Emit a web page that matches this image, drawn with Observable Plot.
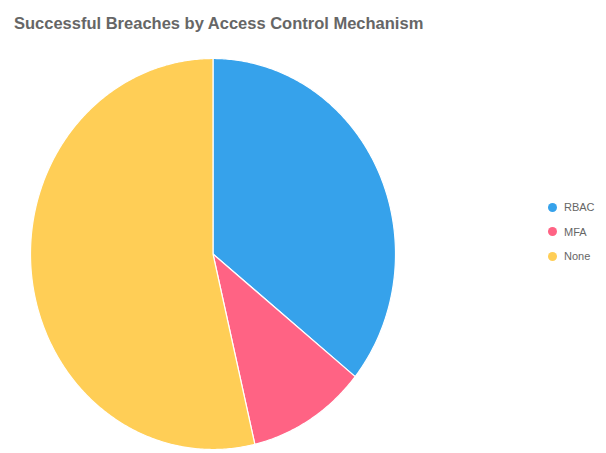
<!DOCTYPE html>
<html>
<head>
<meta charset="utf-8">
<script src="https://cdn.jsdelivr.net/npm/d3@7"></script>
<script src="https://cdn.jsdelivr.net/npm/@observablehq/plot@0.6"></script>
<style>
  html, body { margin: 0; padding: 0; background: #fff; }
  #wrap { position: relative; width: 606px; height: 453px; overflow: hidden; font-family: "Liberation Sans", Arial, sans-serif; }
  #title { height: 45px; box-sizing: border-box; padding: 14px 0 0 14px; font-size: 16.5px; font-weight: bold; color: #666; white-space: nowrap; }
  #legend { position: absolute; left: 548px; top: 195px; font-size: 11px; color: #666; }
  .item { display: flex; align-items: center; height: 24.5px; }
  .sw { width: 9px; height: 9px; border-radius: 50%; margin-right: 7px; }
</style>
</head>
<body>
<div id="wrap">
  <div id="title">Successful Breaches by Access Control Mechanism</div>
  <div id="chart"></div>
  <div id="legend"></div>
</div>
<script>
const categories = ["RBAC", "MFA", "None"];
const values = [34, 10, 51];
const colors = ["#36A2EB", "#FF6384", "#FFCE56"];

const data = categories.map((c, i) => ({label: c, value: values[i]}));
const arcs = d3.pie().sort(null).value(d => d.value).startAngle(0).endAngle(2 * Math.PI)(data);

// Build slice outlines in unit space (clockwise from 12 o'clock)
const pts = [];
for (const a of arcs) {
  const lab = a.data.label;
  pts.push({label: lab, x: 0, y: 0});
  const n = Math.max(2, Math.ceil((a.endAngle - a.startAngle) / 0.01));
  for (let k = 0; k <= n; k++) {
    const t = a.startAngle + (a.endAngle - a.startAngle) * k / n;
    pts.push({label: lab, x: Math.sin(t), y: Math.cos(t)});
  }
  pts.push({label: lab, x: 0, y: 0});
}

const chart = Plot.plot({
  width: 606,
  height: 408,
  margin: 0,
  x: {domain: [-1, 1], range: [30, 395], axis: null},
  y: {domain: [-1, 1], range: [404, 13], axis: null},
  color: {domain: categories, range: colors},
  marks: [
    Plot.line(pts, {x: "x", y: "y", z: "label", fill: "label", stroke: "#fff", strokeWidth: 1.2, curve: "linear-closed"})
  ]
});
document.getElementById("chart").appendChild(chart);

const legend = document.getElementById("legend");
categories.forEach((c, i) => {
  const it = document.createElement("div");
  it.className = "item";
  it.innerHTML = `<span class="sw" style="background:${colors[i]}"></span><span>${c}</span>`;
  legend.appendChild(it);
});
</script>
</body>
</html>
